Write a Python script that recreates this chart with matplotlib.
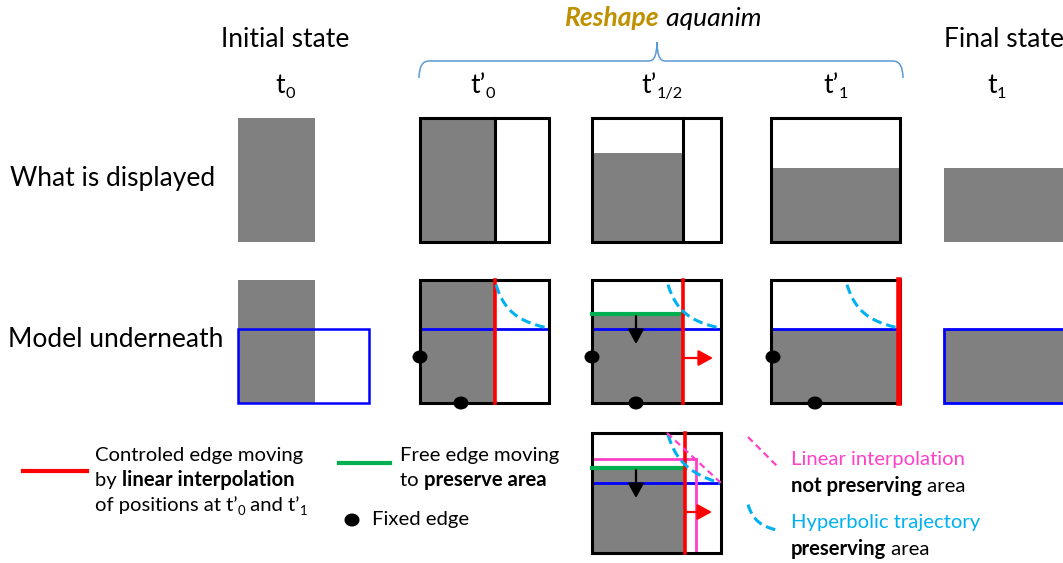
import numpy as np
import matplotlib.pyplot as plt
from matplotlib.patches import Rectangle, Ellipse, FancyArrowPatch, PathPatch
from matplotlib.path import Path

plt.rcParams['font.family'] = ['Lato', 'DejaVu Sans']

# column headings (text, subscript)
col_names = [("t", "0"), ("t\u2019", "0"), ("t\u2019", "1/2"), ("t\u2019", "1"), ("t", "1")]
row_names = ["What is displayed", "Model underneath"]

# shape of the water during the reshape (pixels inside a 128 x 123 frame)
ctrl_width = [75, 91, 129]      # controlled (red) edge: t'0, t'1/2, t'1
free_height = [123, 89, 74]     # free (green) edge height
lin_width, lin_height = 104, 94  # linear interpolation of the corner at t'1/2
# hyperbolic corner trajectory (w - a) * (h - b) = c
hyp_a, hyp_b, hyp_c = 58, 60, 1050

GRAY = "#808080"
RED = "#ff0000"
GREEN = "#00b050"
BLUE = "#0000ff"
CYAN = "#00b0f0"
PINK = "#ff40c8"
GOLD = "#bf9000"

W, H = 1063, 563
fig = plt.figure(figsize=(W / 100, H / 100), dpi=100)
ax = fig.add_axes([0, 0, 1, 1])
ax.set_xlim(0, W)
ax.set_ylim(H, 0)
ax.axis("off")
rend = fig.canvas.get_renderer()


def text_w(s, **kw):
    t = ax.text(0, 0, "|" + s + "|", **kw)
    w1 = t.get_window_extent(rend).width
    t.set_text("||")
    w0 = t.get_window_extent(rend).width
    t.remove()
    return w1 - w0


def rich(x, y, parts, ha="left"):
    # parts: (string, style dict, vertical shift)
    widths = [text_w(s, **kw) for s, kw, dy in parts]
    if ha == "center":
        x -= sum(widths) / 2
    for (s, kw, dy), w in zip(parts, widths):
        ax.text(x, y + dy, s, va="baseline", ha="left", **kw)
        x += w


def tlabel(x, y, base, sub, size=19):
    rich(x, y, [(base, dict(fontsize=size), 0), (sub, dict(fontsize=size * 0.62), 5)], ha="center")


def frame(x, y, w, h, lw=2.2):
    ax.add_patch(Rectangle((x, y), w, h, fill=False, ec="black", lw=lw, zorder=5))


def gray(x, y, w, h):
    ax.add_patch(Rectangle((x, y), w, h, fc=GRAY, ec="none", zorder=1))


def dot(x, y):
    ax.add_patch(Ellipse((x, y), 15, 13, fc="black", ec="none", zorder=8))


def arrow(x0, y0, x1, y1, c):
    ax.add_patch(FancyArrowPatch((x0, y0), (x1, y1), arrowstyle="-|>,head_length=0.55,head_width=0.3",
                                 mutation_scale=16, color=c, lw=1.6, zorder=9, shrinkA=0, shrinkB=0))


def hyper(x0, ybot, dy=0):
    w = np.linspace(ctrl_width[0] + 1, ctrl_width[-1] - 1, 50)
    h = hyp_b + hyp_c / (w - hyp_a)
    ax.plot(x0 + w, ybot - h + dy * (w - w[0]) / (w[-1] - w[0]), color=CYAN, lw=2.2,
            ls=(0, (3.2, 1.6)), zorder=7)


# headings
ax.text(285, 47, "Initial state", fontsize=19, ha="center", va="baseline")
ax.text(944, 47, "Final state", fontsize=19, ha="left", va="baseline")
rich(663, 26, [("Reshape", dict(fontsize=19, color=GOLD, fontweight="bold", fontstyle="italic"), 0),
               (" aquanim", dict(fontsize=19, fontstyle="italic"), 0)], ha="center")
col_x = [285, 483, 662, 836, 997]
for cx, (b, s) in zip(col_x, col_names):
    tlabel(cx, 93, b, s)

# curly brace over the reshape columns
bl, br, bt, by, bm = 419, 903, 78, 61, 657
verts = [(bl, bt), (bl, by), (bl + 10, by), (bm - 8, by), (bm, by), (bm, 42),
         (bm, by), (bm + 8, by), (br - 10, by), (br, by), (br, bt)]
codes = [Path.MOVETO, Path.CURVE3, Path.CURVE3, Path.LINETO, Path.CURVE3, Path.CURVE3,
         Path.CURVE3, Path.CURVE3, Path.LINETO, Path.CURVE3, Path.CURVE3]
ax.add_patch(PathPatch(Path(verts, codes), fill=False, ec="#5b9bd5", lw=1.1))

ax.text(10, 186, row_names[0], fontsize=19, va="baseline")
ax.text(8, 347, row_names[1], fontsize=19, va="baseline")

# ---- row 1 : what is displayed
top1, fh = 118, 124
gray(238, top1, 77, fh)
fx = [420, 592, 771]
fw = 129
gray(fx[0], top1, ctrl_width[0], fh)
ax.plot([fx[0] + ctrl_width[0]] * 2, [top1, top1 + fh], color="black", lw=2.2, zorder=5)
frame(fx[0], top1, fw, fh)
gray(fx[1], top1 + fh - free_height[1], ctrl_width[1], free_height[1])
ax.plot([fx[1] + ctrl_width[1]] * 2, [top1, top1 + fh], color="black", lw=2.2, zorder=5)
frame(fx[1], top1, fw, fh)
gray(fx[2], top1 + fh - free_height[2], fw, free_height[2])
frame(fx[2], top1, fw, fh)
gray(944, top1 + fh - free_height[2], 130, free_height[2])

# ---- row 2 : model underneath
top2, bot2 = 280, 403
ylev = bot2 - free_height[2]
gray(238, top2, 77, bot2 - top2)
ax.add_patch(Rectangle((238, ylev), 131, bot2 - ylev, fill=False, ec=BLUE, lw=1.8, zorder=4))

# t'0
x0 = fx[0]
gray(x0, top2, ctrl_width[0], bot2 - top2)
ax.plot([x0, x0 + fw], [ylev, ylev], color=BLUE, lw=2, zorder=4)
ax.plot([x0 + ctrl_width[0]] * 2, [top2, bot2], color=RED, lw=2.6, zorder=6)
hyper(x0, bot2)
frame(x0, top2, fw, bot2 - top2)
dot(x0, 357)
dot(x0 + 41, bot2)

# t'1/2
x0 = fx[1]
yg = bot2 - free_height[1]
gray(x0, yg, ctrl_width[1], bot2 - yg)
ax.plot([x0, x0 + fw], [ylev, ylev], color=BLUE, lw=2, zorder=4)
ax.plot([x0, x0 + ctrl_width[1]], [yg, yg], color=GREEN, lw=3, zorder=6)
ax.plot([x0 + ctrl_width[1]] * 2, [top2, bot2], color=RED, lw=2.6, zorder=6)
hyper(x0, bot2)
frame(x0, top2, fw, bot2 - top2)
arrow(x0 + 44, yg + 2, x0 + 44, yg + 30, "black")
arrow(x0 + ctrl_width[1], 358, x0 + ctrl_width[1] + 30, 358, RED)
dot(x0, 357)
dot(x0 + 44, bot2)

# t'1
x0 = fx[2]
gray(x0, ylev, fw, bot2 - ylev)
ax.plot([x0, x0 + fw], [ylev, ylev], color=BLUE, lw=2, zorder=4)
hyper(x0, bot2)
ax.plot([x0 + fw - 1] * 2, [top2, bot2], color=RED, lw=4, zorder=6)
frame(x0, top2, fw, bot2 - top2)
dot(x0 + 2, 357)
dot(x0 + 44, bot2)

# t1
ax.add_patch(Rectangle((944, ylev), 130, bot2 - ylev, fc=GRAY, ec=BLUE, lw=2, zorder=4))

# ---- row 3 : linear vs hyperbolic at t'1/2
x0, top3, bot3 = 592, 433, 553
yg3 = bot3 - 85
ylev3 = bot3 - 70
xr3 = x0 + 93
gray(x0, yg3, xr3 - x0, bot3 - yg3)
ax.plot([x0, x0 + fw], [ylev3, ylev3], color=BLUE, lw=2, zorder=4)
ax.plot([x0, x0 + lin_width], [bot3 - lin_height] * 2, color=PINK, lw=2, zorder=5)
ax.plot([x0 + lin_width] * 2, [bot3 - lin_height, bot3], color=PINK, lw=2, zorder=5)
ax.plot([x0, xr3], [yg3, yg3], color=GREEN, lw=3, zorder=6)
ax.plot([xr3, xr3], [top3, bot3], color=RED, lw=2.6, zorder=6)
hyper(x0, bot3, dy=5)
ax.plot([x0 + ctrl_width[0], x0 + fw], [top3, ylev3], color=PINK, lw=1.6, ls=(0, (3, 2)), zorder=7)
frame(x0, top3, fw, bot3 - top3)
arrow(x0 + 44, yg3 + 2, x0 + 44, yg3 + 30, "black")
arrow(xr3, 512, xr3 + 27, 512, RED)

# ---- legend
fs = 14.6
ax.plot([23, 87], [471, 471], color=RED, lw=3)
rich(95, 461, [("Controled edge moving", dict(fontsize=fs), 0)])
rich(95, 486, [("by ", dict(fontsize=fs), 0), ("linear interpolation", dict(fontsize=fs, fontweight="bold"), 0)])
rich(95, 511, [("of positions at t\u2019", dict(fontsize=fs), 0), ("0", dict(fontsize=fs * 0.65), 4),
               (" and t\u2019", dict(fontsize=fs), 0), ("1", dict(fontsize=fs * 0.65), 4)])

ax.plot([339, 390], [463, 463], color=GREEN, lw=3)
rich(400, 461, [("Free edge moving", dict(fontsize=fs), 0)])
rich(400, 486, [("to ", dict(fontsize=fs), 0), ("preserve area", dict(fontsize=fs, fontweight="bold"), 0)])
dot(352, 520)
rich(372, 525, [("Fixed edge", dict(fontsize=fs), 0)])

ax.plot([748, 778], [437, 467], color=PINK, lw=1.6, ls=(0, (3, 2)))
lw_ = np.linspace(76, 126, 30)
ax.plot(748 + (lw_ - 76) * 0.6, 503 + (121 - (hyp_b + hyp_c / (lw_ - hyp_a))) * 0.6,
        color=CYAN, lw=2.2, ls=(0, (3.2, 1.6)))
rich(791, 465, [("Linear interpolation", dict(fontsize=fs, color=PINK), 0)])
rich(791, 492, [("not preserving", dict(fontsize=fs, fontweight="bold"), 0), (" area", dict(fontsize=fs), 0)])
rich(791, 528, [("Hyperbolic trajectory", dict(fontsize=fs, color=CYAN), 0)])
rich(791, 555, [("preserving", dict(fontsize=fs, fontweight="bold"), 0), (" area", dict(fontsize=fs), 0)])

fig.savefig("out.png", dpi=100)
